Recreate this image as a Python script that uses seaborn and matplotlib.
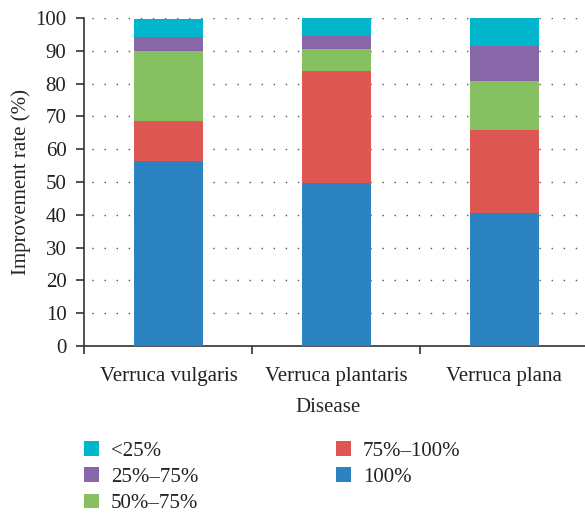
import matplotlib
matplotlib.use("Agg")
import matplotlib.pyplot as plt
import seaborn as sns
import pandas as pd
import numpy as np
from matplotlib.patches import Patch

diseases = ["Verruca vulgaris", "Verruca plantaris", "Verruca plana"]
levels = ["100%", "75%–100%", "50%–75%", "25%–75%", "<25%"]
v_100 = [56.4, 49.7, 40.5]
v_75_100 = [12.2, 34.1, 25.4]
v_50_75 = [21.3, 6.7, 14.9]
v_25_75 = [4.3, 4.1, 10.8]
v_lt25 = [5.5, 5.4, 8.4]
yticks = [0, 10, 20, 30, 40, 50, 60, 70, 80, 90, 100]

colors = {"100%": "#2B83C2", "75%–100%": "#DE5753", "50%–75%": "#86C060",
          "25%–75%": "#8767A8", "<25%": "#00B5CC"}

series = [v_100, v_75_100, v_50_75, v_25_75, v_lt25]
rows = []
for lev, vals in zip(levels, series):
    for d, v in zip(diseases, vals):
        rows.append({"Disease": d, "Level": lev, "Value": v})
df = pd.DataFrame(rows)
df["Cum"] = df.groupby("Disease")["Value"].cumsum()

sns.set_theme(style="white")
plt.rcParams["font.family"] = ["Liberation Serif", "DejaVu Serif"]
plt.rcParams["text.color"] = "#222222"

fig = plt.figure(figsize=(5.85, 5.13), dpi=100)
ax = fig.add_axes([84.5 / 585, (513 - 346) / 513, (585 - 84.5) / 585, (346 - 18) / 513])

# draw from top cumulative down so lower segments overlay
for lev in reversed(levels):
    sub = df[df["Level"] == lev]
    sns.barplot(data=sub, x="Disease", y="Cum", order=diseases, color=colors[lev],
                width=0.41, ax=ax, zorder=3, saturation=1, linewidth=0, edgecolor="none")

ax.set_xlim(-0.5, 2.48)
ax.set_ylim(0, 100)
ax.set_yticks(yticks)
ax.set_yticklabels([str(t) for t in yticks], fontsize=15)
ax.set_xticks([0, 1, 2])
ax.set_xticklabels(diseases, fontsize=15)
ax.set_xticks([-0.5, 0.5, 1.5], minor=True)
ax.tick_params(axis="x", which="major", length=0, pad=15, colors="#222222")
ax.tick_params(axis="x", which="minor", length=6, width=1.2, direction="out", color="#333333", bottom=True)
ax.tick_params(axis="y", which="major", length=6, width=1.2, direction="out", pad=7, left=True, color="#333333", labelcolor="#222222")

for y in yticks[1:]:
    ax.axhline(y, color="#555555", lw=1.0, linestyle=(3, (1, 7.7)), zorder=1)

for s in ["top", "right"]:
    ax.spines[s].set_visible(False)
for s in ["left", "bottom"]:
    ax.spines[s].set_color("#333333")
    ax.spines[s].set_linewidth(1.2)

ax.set_xlabel("Disease", fontsize=15, labelpad=9)
ax.xaxis.label.set_x((328 - 84.5) / (585 - 84.5))
ax.set_ylabel("Improvement rate (%)", fontsize=15, labelpad=3)

leg_order = ["<25%", "25%–75%", "50%–75%", "75%–100%", "100%"]
handles = [Patch(facecolor=colors[l], edgecolor="none", label=l) for l in leg_order]
fig.legend(handles=handles, ncol=2, loc="upper left", bbox_to_anchor=(84 / 585, 1 - 441 / 513),
           frameon=False, fontsize=15, handlelength=0.7, handleheight=0.7,
           handletextpad=0.6, labelspacing=0.32, columnspacing=6.6, borderaxespad=0, borderpad=0)

fig.savefig("out.png", dpi=100)
